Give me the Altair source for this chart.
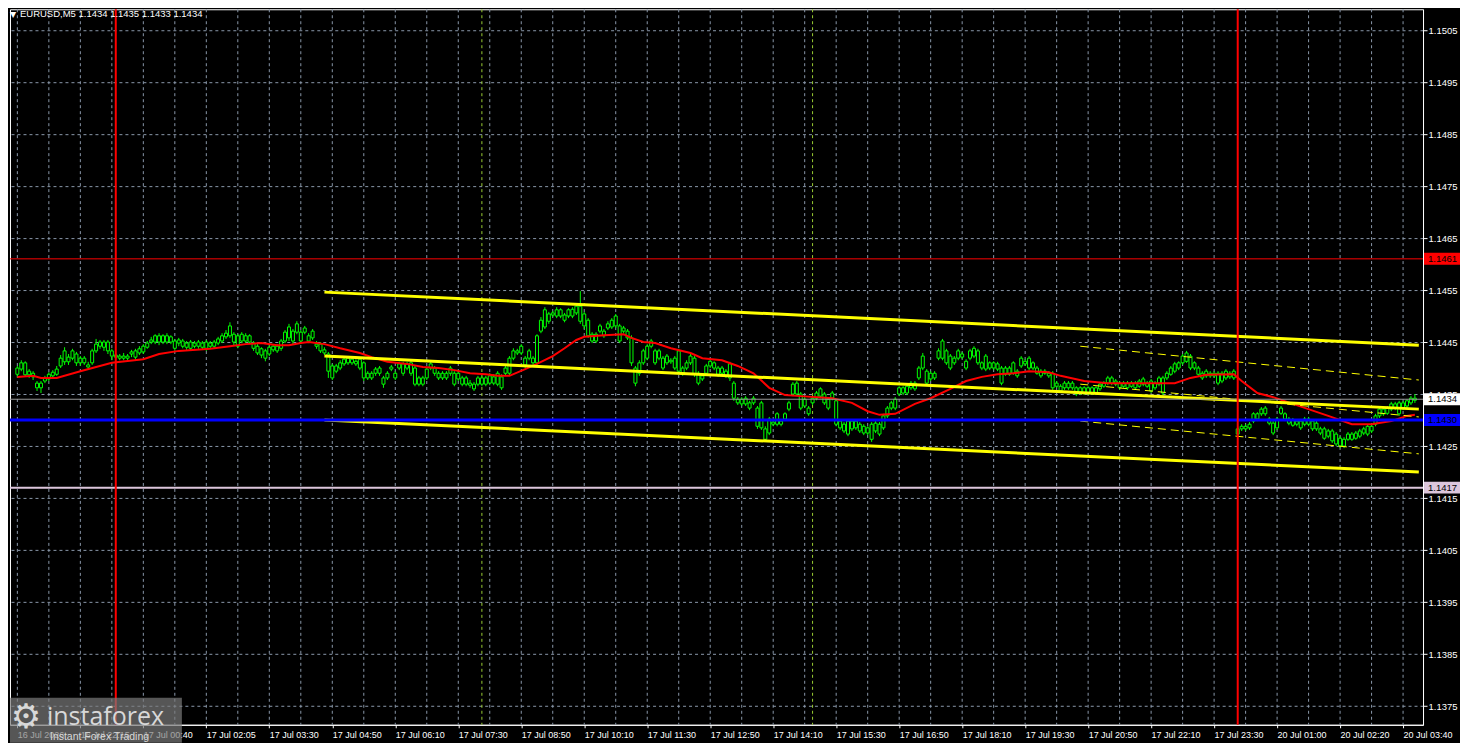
import json
import altair as alt
import pandas as pd

W, H = 1414, 716
BASE = 1.14  # candle / indicator values below are points (0.00001) above 1.14000

# ---------------- candles (M5 EURUSD) ----------------
body_top = [
    400,410,410,394,390,371,371,381,388,392, 398,419,433,421,433,427,419,419,406,433,
    446,450,450,450,433,425,423,423,423,431, 433,437,442,448,454,462,462,462,462,460,
    452,454,452,448,450,448,450,448,450,448, 450,456,462,467,481,465,462,465,462,462,
    448,442,437,433,440,442,442,452,469,479, 471,485,469,477,462,471,446,446,435,427,
    404,404,410,417,419,417,413,417,410,390, 390,398,400,381,390,402,390,408,408,408,
    410,400,381,381,398,408,400,390,390,390, 400,390,390,381,381,371,369,381,381,381,
    385,383,390,383,400,419,433,433,442,419, 433,419,462,492,512,504,506,512,512,502,
    512,513,519,519,504,492,465,465,481,471, 485,492,500,481,477,471,458,400,410,433,
    442,452,433,433,419,423,415,419,433,400, 410,423,419,390,385,404,413,410,400,400,
    394,408,371,340,340,342,333,342,323,333, 283,302,296,312,298,312,333,369,371,350,
    340,323,342,352,360,350,340,352,337,298, 292,298,298,298,292,288,285,292,294,292,
    308,323,333,340,362,362,365,371,371,400, 423,394,390,390,433,452,433,423,419,433,
    427,413,433,438,433,410,423,410,410,408, 400,400,400,410,394,419,413,419,410,400,
    394,394,390,390,371,365,371,371,371,362, 362,362,362,362,362,369,371,381,381,375,
    371,371,371,371,371,375,379,371,375,371, 381,381,390,400,408,410,423,429,423,410,
    400,390,394,390,390,390,390,394,390,394, 283,288,288,292,312,312,321,323,302,294,
    302,323,312,302,300,298,298,302,302,298, 294,283,283,279,279,273,265,263,273,273,
    275,279,283,288,288,308,321,321,323,331, 331,333,333,337,342,342,
]
body_bot = [
    388,398,387,387,383,362,362,375,379,385, 388,404,412,412,419,410,410,410,402,410,
    433,442,440,433,423,421,419,419,419,427, 421,429,431,440,450,450,450,450,450,450,
    438,448,442,440,438,442,442,440,438,442, 442,448,452,460,462,450,442,452,452,450,
    438,429,425,419,427,435,433,438,452,458, 452,469,452,469,452,458,442,433,429,394,
    381,394,400,408,410,410,408,400,381,381, 381,390,390,369,381,398,381,400,390,400,
    390,369,369,369,381,400,390,381,381,381, 390,369,379,369,369,367,360,369,369,369,
    371,371,369,362,390,390,419,429,429,406, 419,410,410,471,479,490,502,500,500,492,
    500,500,506,490,481,462,452,452,471,462, 477,479,481,452,471,458,410,371,390,410,
    419,442,410,419,400,410,412,400,394,390, 400,410,388,371,379,390,404,400,388,390,
    385,381,342,333,331,331,323,333,288,285, 263,275,292,292,292,302,321,350,350,323,
    327,312,333,342,346,333,323,342,292,285, 279,273,283,285,279,275,275,263,279,273,
    285,308,323,323,350,352,352,362,360,381, 400,371,379,381,419,419,410,400,410,419,
    421,400,419,423,410,400,398,400,400,398, 371,388,388,390,385,404,408,400,400,390,
    385,390,385,362,365,356,362,362,362,350, 352,352,352,352,352,360,365,371,371,369,
    362,365,362,365,362,365,369,365,356,362, 369,352,381,388,394,400,410,413,400,400,
    388,381,385,385,385,371,375,381,383,381, 273,283,283,285,298,302,312,312,294,275,
    285,313,302,294,290,292,285,292,292,283, 283,275,265,269,260,254,250,250,263,263,
    265,269,275,273,279,292,308,312,313,321, 323,312,323,327,333,338,
]
wick_top = [
    404,415,413,398,394,375,375,385,392,396, 404,425,440,427,437,431,423,423,412,437,
    456,454,454,454,437,429,427,429,427,435, 437,442,446,452,460,465,467,465,467,463,
    456,458,456,452,454,452,454,452,454,452, 454,460,467,473,488,469,465,469,467,465,
    452,446,440,437,444,446,446,456,473,485, 475,490,473,481,467,475,452,450,440,431,
    408,408,415,421,423,421,417,421,413,394, 394,402,404,385,394,406,394,412,412,412,
    415,404,385,385,402,412,404,394,394,394, 404,394,394,385,385,377,373,385,385,385,
    390,388,394,388,404,423,438,437,446,423, 437,423,465,498,517,508,510,517,515,506,
    515,517,525,548,508,496,469,469,485,475, 490,496,504,485,481,475,463,404,415,437,
    446,456,437,437,423,427,419,423,437,404, 415,427,423,394,388,408,417,413,404,404,
    398,412,375,344,344,346,337,346,327,337, 288,306,300,315,302,315,337,373,375,354,
    344,327,346,356,363,354,344,356,340,302, 296,302,302,302,296,292,288,296,298,296,
    312,327,337,344,365,365,369,375,375,404, 429,398,394,394,438,456,437,427,423,437,
    431,417,437,442,437,413,427,413,413,412, 404,404,404,413,398,423,417,423,413,404,
    398,398,394,394,375,369,375,375,375,365, 365,365,365,365,365,373,375,385,385,379,
    375,375,375,375,375,379,383,375,379,375, 385,385,394,404,412,413,427,433,427,413,
    404,394,398,394,394,394,394,398,394,398, 287,292,292,296,315,315,325,327,306,298,
    306,327,315,306,304,302,302,306,306,302, 298,287,287,283,283,277,269,267,277,277,
    279,283,287,292,292,312,325,325,327,335, 335,337,337,340,346,350,
]
wick_bot = [
    383,394,383,381,377,356,352,371,375,381, 385,400,406,406,415,404,404,406,398,406,
    429,437,433,427,415,417,415,415,413,421, 417,425,427,437,446,446,444,446,446,446,
    433,442,438,435,433,438,437,435,433,438, 438,444,448,456,458,444,438,448,448,446,
    433,425,419,413,423,431,429,433,448,452, 446,465,446,465,448,454,437,429,425,381,
    377,390,396,404,406,406,404,396,375,377, 377,385,385,362,377,394,377,396,385,396,
    385,365,365,365,377,396,385,377,377,377, 385,365,375,365,365,362,356,365,365,365,
    367,367,365,358,385,385,415,425,425,400, 415,406,406,467,475,485,498,496,496,488,
    496,496,502,485,475,458,448,448,467,458, 473,475,477,448,467,454,404,365,385,406,
    415,438,406,415,396,406,408,396,390,385, 396,406,383,367,375,385,400,396,383,385,
    381,375,337,329,327,327,319,329,283,281, 260,271,288,288,288,298,317,346,346,319,
    323,308,329,338,342,329,319,338,288,281, 275,269,279,281,275,271,271,258,275,269,
    281,304,319,319,346,348,348,358,356,377, 396,367,375,377,415,415,406,396,406,415,
    417,396,415,419,406,396,394,396,396,394, 367,385,385,387,381,400,404,396,396,387,
    381,387,381,358,362,352,358,358,358,346, 348,348,348,348,348,356,362,367,367,365,
    358,362,358,362,358,362,365,362,352,358, 365,348,377,385,390,396,406,410,396,396,
    385,377,381,381,381,367,371,377,379,377, 269,279,279,281,294,298,308,308,290,271,
    281,310,298,290,287,288,281,288,288,279, 279,271,262,265,256,250,246,246,260,260,
    262,265,271,269,275,288,304,308,310,317, 319,308,319,323,329,333,
]

# ---------------- moving average (red), sampled along the line ----------------
ma_bar = [0,4,6,10,16,24,32,36,41,49, 54,58,62,66,69,72,74,78,82,87,
          90,94,99,103,107,111,115,119,122,125, 129,132,136,139,142,144,149,154,156,159,
          162,166,171,174,179,183,187,191,195,199, 207,212,216,219,223,228,232,237,241,245,
          249,253,257,262,265,271,277,286,294,298, 302,309,311,315,319,324,333,339,344,349,
          353,355]
ma_pts = [383,385,381,381,394,410,417,427,433,437, 442,446,448,444,444,448,450,446,438,429,
          421,412,408,402,400,396,390,388,385,385, 398,408,423,438,454,460,463,465,458,450,
          448,438,429,419,415,404,390,362,348,346, 342,333,317,310,312,331,342,360,375,383,
          388,390,394,392,385,375,371,371,371,381, 387,388,375,352,344,331,308,292,292,298,
          308,310]

# ---------------- regression channels (yellow) ----------------
chan_bar = [78, 356]
chan_upper = [546, 444]
chan_mid = [423, 321]
chan_lower = [300, 200]
thin_bar = [270, 356]
thin_upper = [442, 377]
thin_mid = [369, 306]
thin_lower = [298, 235]

# ---------------- horizontal levels / vertical lines ----------------
level_price = [1.1461, 1.1434, 1.1430, 1.1417]
level_color = ["#ff0000", "#9a9a9a", "#0000ff", "#dcc6dc"]
level_width = [1, 1, 3, 2]
box_fill = ["#ff0000", "#ffffff", "#0000ff", "#dcc6dc"]
day_sep_bar = [25, 310]
event_bar = [118, 202]

# ---------------- axes ----------------
y_ticks = [1.1375, 1.1385, 1.1395, 1.1405, 1.1415, 1.1425, 1.1435, 1.1445,
           1.1455, 1.1465, 1.1475, 1.1485, 1.1495, 1.1505]
x_tick_bar = [0, 16, 32, 48, 64, 80, 96, 112, 128, 144, 160, 176, 192, 208,
              224, 240, 256, 272, 288, 304, 320, 336, 352]
x_tick_label = ["16 Jul 2026", "16 Jul 22:15", "17 Jul 00:40", "17 Jul 02:05",
                "17 Jul 03:30", "17 Jul 04:50", "17 Jul 06:10", "17 Jul 07:30",
                "17 Jul 08:50", "17 Jul 10:10", "17 Jul 11:30", "17 Jul 12:50",
                "17 Jul 14:10", "17 Jul 15:30", "17 Jul 16:50", "17 Jul 18:10",
                "17 Jul 19:30", "17 Jul 20:50", "17 Jul 22:10", "17 Jul 23:30",
                "20 Jul 01:00", "20 Jul 02:20", "20 Jul 03:40"]
x_grid_bar = list(range(0, 353, 8))

title_symbol = "EURUSD,M5"
title_ohlc = ["1.1434", "1.1435", "1.1433", "1.1434"]

FONT = "Liberation Sans"
GRID = "#8a98aa"
LIME = "#00ff00"


def px(v):
    return BASE + v / 1e5


n = len(body_top)
candles = pd.DataFrame({
    "bar": list(range(n)),
    "btop": [px(v) for v in body_top],
    "bbot": [px(v) for v in body_bot],
    "wtop": [px(v) for v in wick_top],
    "wbot": [px(v) for v in wick_bot],
})
ma = pd.DataFrame({"bar": ma_bar, "price": [px(v) for v in ma_pts]})


def chan_df(bars, series):
    rows = []
    for name, vals in series.items():
        for b, v in zip(bars, vals):
            rows.append({"line": name, "bar": b, "price": px(v)})
    return pd.DataFrame(rows)


thick = chan_df(chan_bar, {"u": chan_upper, "m": chan_mid, "l": chan_lower})
thin = chan_df(thin_bar, {"u": thin_upper, "m": thin_mid, "l": thin_lower})

levels = pd.DataFrame({
    "price": level_price, "color": level_color, "w": level_width,
    "fill": box_fill, "label": [f"{p:.4f}" for p in level_price],
})

xs = alt.Scale(domain=[-0.6, 355.8], nice=False, zero=False)
ys = alt.Scale(domain=[1.13714, 1.15090], nice=False, zero=False)

label_expr = ("%s[indexof(%s, datum.value)]"
              % (json.dumps(x_tick_label), json.dumps(x_tick_bar)))

x_axis = alt.Axis(values=x_tick_bar, labelExpr=label_expr, orient="bottom",
                  grid=False, labelAlign="left", labelColor="white",
                  tickColor="white", domainColor="white", tickSize=3,
                  labelPadding=3, labelOverlap=False, labelFlush=False,
                  labelBound=False, labelFont=FONT, labelFontSize=9,
                  title=None, zindex=0)
y_axis = alt.Axis(values=y_ticks, format=".4f", orient="right", grid=True,
                  gridColor=GRID, gridDash=[3, 3], gridWidth=1,
                  labelColor="white", tickColor="white", domainColor="white",
                  tickSize=4, labelPadding=1, labelFont=FONT, labelFontSize=9.5,
                  labelOverlap=False, labelFlush=False, labelBound=False,
                  labelBaseline="middle", title=None, zindex=0)


def X(f="bar"):
    return alt.X(f"{f}:Q", scale=xs, axis=x_axis)


def Y(f="price"):
    return alt.Y(f"{f}:Q", scale=ys, axis=y_axis)


vgrid = alt.Chart(pd.DataFrame({"bar": x_grid_bar})).mark_rule(
    color=GRID, strokeDash=[3, 3], strokeWidth=1).encode(x=X())

events = alt.Chart(pd.DataFrame({"bar": event_bar})).mark_rule(
    color="#9acd32", strokeDash=[3, 3], strokeWidth=1).encode(x=X())

wicks = alt.Chart(candles).mark_rule(color=LIME, strokeWidth=1).encode(
    x=X(), y=Y("wbot"), y2="wtop:Q")
bodies = alt.Chart(candles).mark_bar(size=3, fill="black", stroke=LIME,
                                     strokeWidth=1).encode(
    x=X(), y=Y("bbot"), y2="btop:Q")

ma_line = alt.Chart(ma).mark_line(color="#ff0000", strokeWidth=2).encode(
    x=X(), y=Y())

thick_lines = alt.Chart(thick).mark_line(color="#ffff00", strokeWidth=3,
                                        clip=True).encode(
    x=X(), y=Y(), detail="line:N")
thin_lines = alt.Chart(thin).mark_line(color="#ffff00", strokeWidth=1,
                                      strokeDash=[8, 5], clip=True).encode(
    x=X(), y=Y(), detail="line:N")

hlines = alt.Chart(levels).mark_rule().encode(
    y=Y(), color=alt.Color("color:N", scale=None),
    strokeWidth=alt.StrokeWidth("w:Q", scale=None))

vlines = alt.Chart(pd.DataFrame({"bar": day_sep_bar})).mark_rule(
    color="#ff0000", strokeWidth=2).encode(x=X())

boxes = alt.Chart(levels).transform_calculate(
    top="datum.price + 0.000115", bot="datum.price - 0.000115"
).mark_rect().encode(
    x=alt.value(W + 1), x2=alt.value(W + 37),
    y=Y("top"), y2="bot:Q",
    fill=alt.Fill("fill:N", scale=None))
box_text = alt.Chart(levels).mark_text(
    align="left", baseline="middle", font=FONT, fontSize=9.5, color="black"
).encode(x=alt.value(W + 5), y=Y(), text="label:N")

title_df = pd.DataFrame({"t": [title_symbol + "  " + " ".join(title_ohlc)]})
title_tri = alt.Chart(title_df).mark_text(
    text="\u25bc", align="left", baseline="top", font="DejaVu Sans",
    fontSize=8, color="white").encode(x=alt.value(0), y=alt.value(2))
title_txt = alt.Chart(title_df).mark_text(
    align="left", baseline="top", font=FONT, fontSize=9.5, color="white"
).encode(x=alt.value(10), y=alt.value(0), text="t:N")

one = pd.DataFrame({"k": [0]})
logo_box = alt.Chart(one).mark_rect(fill="#7a7a7a", opacity=0.7).encode(
    x=alt.value(0), x2=alt.value(172), y=alt.value(689), y2=alt.value(734))
logo_gear = alt.Chart(one).mark_text(
    text="\u2699", font="DejaVu Sans", fontSize=34, color="#d8d8d8",
    baseline="middle", align="center").encode(x=alt.value(16), y=alt.value(709))
logo_name = alt.Chart(one).mark_text(
    text="instaforex", font="Open Sans", fontSize=25, color="#d8d8d8",
    baseline="alphabetic", align="left").encode(x=alt.value(37), y=alt.value(716))
logo_tag = alt.Chart(one).mark_text(
    text="Instant Forex Trading", font=FONT, fontSize=10.5, color="#d8d8d8",
    baseline="alphabetic", align="left").encode(x=alt.value(40), y=alt.value(731))

chart = alt.layer(
    vgrid, events, wicks, bodies, ma_line, thick_lines, thin_lines,
    hlines, vlines, boxes, box_text, title_tri, title_txt,
    logo_box, logo_gear, logo_name, logo_tag,
).properties(
    width=W, height=H, padding=0, background="black"
).configure_view(
    stroke="white", strokeWidth=1
)

chart.save("out.html", embed_options={"renderer": "svg", "actions": False})
